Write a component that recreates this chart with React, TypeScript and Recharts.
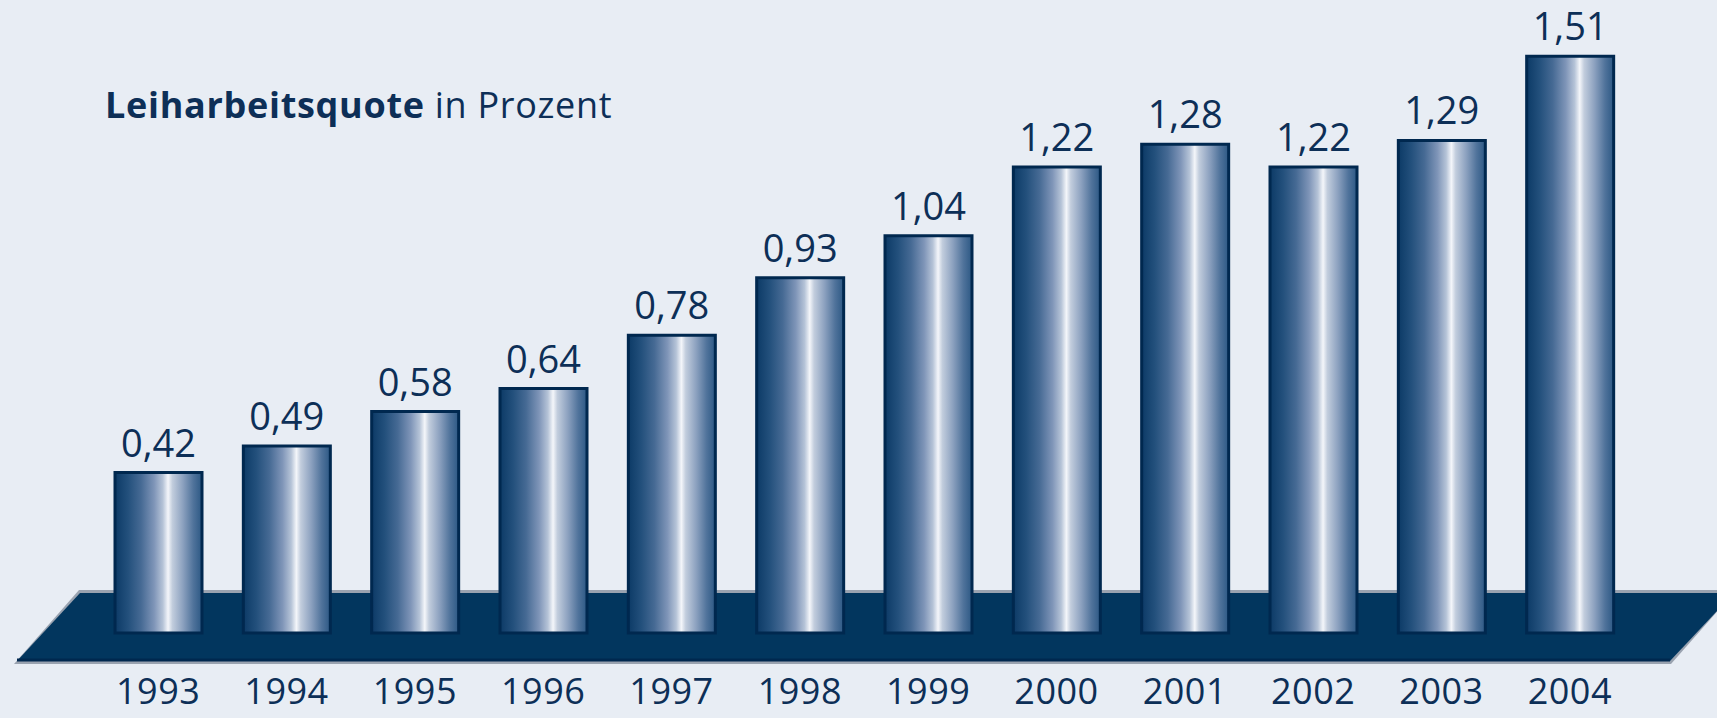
import React from "react"
import { BarChart, Bar, XAxis, YAxis, LabelList } from "recharts"

// Leiharbeitsquote in Prozent, 1993–2004
const years = ["1993", "1994", "1995", "1996", "1997", "1998", "1999", "2000", "2001", "2002", "2003", "2004"]
const quote = [0.42, 0.49, 0.58, 0.64, 0.78, 0.93, 1.04, 1.22, 1.28, 1.22, 1.29, 1.51]

const W = 1717
const H = 718
const BG = "#e8edf4"
const NAVY = "#02365e"
const BORDER = "#00284f"
const TEXT = "#0d2f57"
const FONT = "'Open Sans', 'Liberation Sans', sans-serif"

const chartData = years.map((y, i) => ({ year: y, value: quote[i] }))

const fmt = (v: number) => v.toFixed(2).replace(".", ",")

function Platform() {
  // flache "Bühne" unter den Säulen
  return (
    <svg width={W} height={H} style={{ position: "absolute", left: 0, top: 0 }}>
      <text x={105} y={118} fill={TEXT} fontFamily={FONT} fontSize={36} letterSpacing={0.7}>
        <tspan fontWeight={700}>Leiharbeitsquote</tspan>
        <tspan> in Prozent</tspan>
      </text>
      <polygon points="14,664 79,590 1736,590 1671,664" fill="#9aa3b0" />
      <polygon points="17,661 80,593 1734,593 1670,661" fill={NAVY} />
      <line x1={17} y1={660} x2={1670} y2={660} stroke={BORDER} strokeWidth={3} />
    </svg>
  )
}

export default function App() {
  return (
    <div style={{ width: W, height: H, background: BG, position: "relative", overflow: "hidden" }}>
      <style>{"body{margin:0}"}</style>
      <Platform />
      <div style={{ position: "absolute", left: 0, top: 0 }}>
        <BarChart width={W} height={H} data={chartData} margin={{ top: 22, right: 83, bottom: 0, left: 94 }}>
          <defs>
            <linearGradient id="zylinder" x1="0" y1="0" x2="1" y2="0">
              <stop offset="0%" stopColor="#0c3a66" />
              <stop offset="15%" stopColor="#23507c" />
              <stop offset="30%" stopColor="#466a94" />
              <stop offset="45%" stopColor="#7f95b8" />
              <stop offset="55%" stopColor="#b5c3d7" />
              <stop offset="61%" stopColor="#f4f6fa" />
              <stop offset="66%" stopColor="#c2cddd" />
              <stop offset="78%" stopColor="#8ca1bf" />
              <stop offset="90%" stopColor="#50739b" />
              <stop offset="100%" stopColor="#2c5884" />
            </linearGradient>
          </defs>
          <XAxis
            dataKey="year"
            height={85}
            axisLine={false}
            tickLine={false}
            tickSize={0}
            tickMargin={45}
            interval={0}
            tick={{ fill: TEXT, fontSize: 36, fontFamily: FONT, letterSpacing: 0.5 }}
          />
          <YAxis hide domain={[0, 1.6]} />
          <Bar dataKey="value" barSize={87} fill="url(#zylinder)" stroke={BORDER} strokeWidth={3} isAnimationActive={false}>
            <LabelList
              dataKey="value"
              position="top"
              offset={16}
              formatter={(v: any) => fmt(Number(v))}
              style={{ fill: TEXT, fontSize: 38, fontFamily: FONT }}
            />
          </Bar>
        </BarChart>
      </div>
    </div>
  )
}
